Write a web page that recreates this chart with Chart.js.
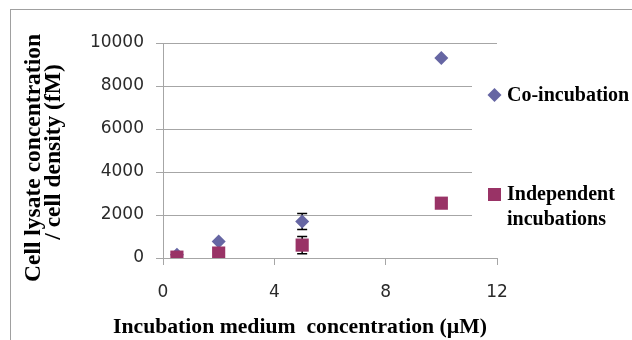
<!DOCTYPE html>
<html>
<head>
<meta charset="utf-8">
<script src="https://cdn.jsdelivr.net/npm/chart.js@4/dist/chart.umd.min.js"></script>
<style>
  body { margin: 0; background: #fff; }
  canvas { display: block; }
</style>
</head>
<body>
<canvas id="chart" width="632" height="340"></canvas>
<script>
var concentrations = [0.5, 2, 5, 10]
var coIncubation = [150, 770, 1700, 9300]
var coIncubationErr = [0, 0, 370, 0]
var independent = [40, 230, 600, 2550]
var independentErr = [0, 0, 400, 0]
var xTicks = [0, 4, 8, 12]
var yTicks = [0, 2000, 4000, 6000, 8000, 10000]

var gridColor = '#a6a6a6'
var coColor = '#6666a3'
var indColor = '#993366'
var serif = '"Liberation Serif", "Times New Roman", serif'

function points(values) {
	return concentrations.map(function(x, i) { return {x: x, y: values[i]} })
}

// error bars go under the markers
var errorBars = {
	id: 'errorBars',
	beforeDatasetsDraw: function(chart) {
		var ctx = chart.ctx, sx = chart.scales.x, sy = chart.scales.y
		ctx.save()
		ctx.strokeStyle = '#000'
		ctx.lineWidth = 1.5
		chart.data.datasets.forEach(function(ds) {
			ds.data.forEach(function(p, i) {
				var e = ds.errors[i]
				if (!e) return
				var px = sx.getPixelForValue(p.x)
				var top = sy.getPixelForValue(p.y + e)
				var bot = sy.getPixelForValue(p.y - e)
				ctx.beginPath()
				ctx.moveTo(px, top); ctx.lineTo(px, bot)
				ctx.moveTo(px - 5, top); ctx.lineTo(px + 5, top)
				ctx.moveTo(px - 5, bot); ctx.lineTo(px + 5, bot)
				ctx.stroke()
			})
		})
		ctx.restore()
	}
}

var frame = {
	id: 'frame',
	beforeDraw: function(chart) {
		var ctx = chart.ctx
		ctx.save()
		ctx.fillStyle = '#fff'
		ctx.fillRect(0, 0, chart.width, chart.height)
		ctx.strokeStyle = '#a0a0a0'
		ctx.lineWidth = 1
		ctx.strokeRect(10.5, 9.5, 1000, 1000)
		ctx.restore()
	},
	afterDraw: function(chart) {
		var ctx = chart.ctx
		ctx.save()
		// legend box sits over the right end of the grid lines
		ctx.fillStyle = '#fff'
		ctx.fillRect(472, 50, 40, 200)

		ctx.fillStyle = coColor
		ctx.beginPath()
		ctx.moveTo(494.5, 88); ctx.lineTo(501.5, 95); ctx.lineTo(494.5, 102); ctx.lineTo(487.5, 95)
		ctx.closePath(); ctx.fill()
		ctx.fillStyle = indColor
		ctx.fillRect(488, 188, 13, 13)

		ctx.fillStyle = '#000'
		ctx.font = 'bold 20px ' + serif
		ctx.textAlign = 'left'
		ctx.textBaseline = 'alphabetic'
		ctx.fillText('Co-incubation', 507, 101)
		ctx.fillText('Independent', 507, 200)
		ctx.fillText('incubations', 507, 225)

		ctx.font = 'bold 21.7px ' + serif
		ctx.fillText('Incubation medium  concentration (\u00b5M)', 113, 333)

		ctx.font = 'bold 23.5px ' + serif
		ctx.textAlign = 'center'
		ctx.translate(40, 158)
		ctx.rotate(-Math.PI / 2)
		ctx.fillText('Cell lysate concentration', 0, 0)
		ctx.fillText('/ cell density (fM)', 6, 20)
		ctx.restore()
	}
}

new Chart(document.getElementById('chart'), {
	type: 'scatter',
	data: {
		datasets: [{
			label: 'Co-incubation',
			data: points(coIncubation),
			errors: coIncubationErr,
			order: 1,
			pointStyle: 'rectRot',
			pointRadius: 7,
			pointHoverRadius: 7,
			backgroundColor: coColor,
			borderColor: coColor,
			borderWidth: 0
		}, {
			label: 'Independent incubations',
			data: points(independent),
			errors: independentErr,
			order: 0,
			pointStyle: 'rect',
			pointRadius: 9.3,
			pointHoverRadius: 9.3,
			backgroundColor: indColor,
			borderColor: indColor,
			borderWidth: 0
		}]
	},
	options: {
		responsive: false,
		animation: false,
		devicePixelRatio: 1,
		layout: { padding: { top: 43, right: 135, left: 0, bottom: 0 } },
		plugins: { legend: { display: false }, tooltip: { enabled: false } },
		scales: {
			x: {
				type: 'linear',
				min: 0, max: 12,
				afterBuildTicks: function(s) { s.ticks = xTicks.map(function(v) { return {value: v} }) },
				afterFit: function(s) { s.height = 82 },
				grid: { drawOnChartArea: false, color: gridColor, tickLength: 7 },
				border: { color: gridColor },
				ticks: { color: '#2a2a2a', padding: 17, maxRotation: 0, font: { family: 'DejaVu Sans', size: 17 } }
			},
			y: {
				min: 0, max: 10000,
				afterBuildTicks: function(s) { s.ticks = yTicks.map(function(v) { return {value: v} }) },
				afterFit: function(s) { s.width = 163 },
				grid: { color: gridColor, tickLength: 7 },
				border: { color: gridColor },
				ticks: {
					color: '#2a2a2a', padding: 12, font: { family: 'DejaVu Sans', size: 17 },
					callback: function(v) { return String(v) }
				}
			}
		}
	},
	plugins: [frame, errorBars]
})
</script>
</body>
</html>
